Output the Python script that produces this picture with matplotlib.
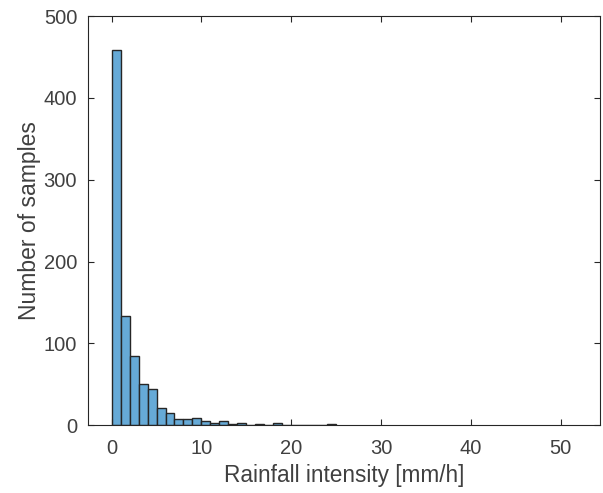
import matplotlib
matplotlib.use("Agg")
import matplotlib.pyplot as plt
import numpy as np

# Histogram data (bin width 1 mm/h, starting at 0)
bin_edges = list(range(0, 26))
counts = [458, 134, 85, 51, 44, 21, 15, 8, 8, 9, 5, 3, 5, 1, 3, 0, 1, 0, 3, 0, 0, 0, 0, 0, 1]
xticks = [0, 10, 20, 30, 40, 50]
yticks = [0, 100, 200, 300, 400, 500]

axcol = "#262626"
plt.rcParams['font.family'] = ['Liberation Sans', 'DejaVu Sans']

fig = plt.figure(figsize=(6.03, 4.93), dpi=100)
ax = fig.add_axes([88.3/603, 1 - 425.3/493, (600 - 88.3)/603, (425.3 - 16)/493])

ax.hist(bin_edges[:-1], bins=bin_edges, weights=counts,
        facecolor="#66AAD7", edgecolor=axcol, linewidth=1.0)

ax.set_xlim(-2.6, 54.4)
ax.set_ylim(0, 500)
ax.set_xticks(xticks)
ax.set_yticks(yticks)
ax.tick_params(direction='in', top=True, right=True, length=4, width=0.8,
               colors=axcol, labelsize=14.5, labelcolor="#404040")
ax.tick_params(axis='x', pad=10)
ax.tick_params(axis='y', pad=8)
for s in ax.spines.values():
    s.set_color(axcol)
    s.set_linewidth(0.8)
ax.set_xlabel("Rainfall intensity [mm/h]", fontsize=16.3, color="#404040", labelpad=4)
ax.set_ylabel("Number of samples", fontsize=16.5, color="#404040", labelpad=2)

fig.savefig("out.png", dpi=100)
